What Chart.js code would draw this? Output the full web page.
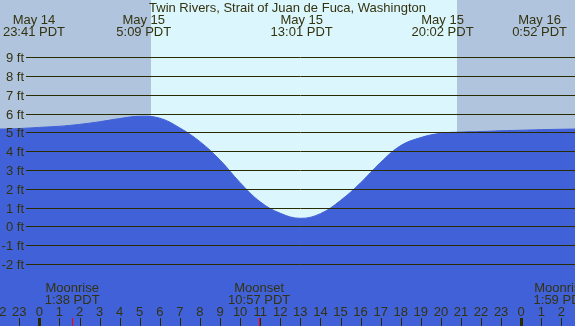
<!DOCTYPE html>
<html lang="en">
<head>
    <meta charset="UTF-8">
    <title>Twin Rivers tide</title>
    <script src="https://cdn.jsdelivr.net/npm/chart.js@4.4.1/dist/chart.umd.min.js"></script>
    <style>
        body { margin: 0; background: #fff; }
        canvas { display: block; }
    </style>
</head>
<body>
    <canvas id="tideChart" width="575" height="326"></canvas>

    <script>
        // hours from midnight May 15 (PDT), tide height in ft
        const hours = [-2, -1, 0, 1, 2, 3, 4, 5, 6, 7, 8, 9, 10, 11, 12, 13, 14, 15, 16, 17, 18, 19, 20, 21, 22, 23, 24, 25, 26, 27];
        const heights = [5.18, 5.21, 5.27, 5.33, 5.43, 5.57, 5.74, 5.86, 5.76, 5.24, 4.51, 3.53, 2.33, 1.31, 0.70, 0.43, 0.68, 1.38, 2.32, 3.41, 4.30, 4.73, 4.96, 5.02, 5.05, 5.09, 5.12, 5.15, 5.17, 5.19];

        const title = 'Twin Rivers, Strait of Juan de Fuca, Washington';
        const tideHours = [-0.317, 5.15, 13.017, 20.033, 24.867];
        const tideDays = ['May 14', 'May 15', 'May 15', 'May 15', 'May 16'];
        const tideTimes = ['23:41 PDT', '5:09 PDT', '13:01 PDT', '20:02 PDT', '0:52 PDT'];

        const moonHours = [1.633, 10.95, 25.983];
        const moonNames = ['Moonrise', 'Moonset', 'Moonrise'];
        const moonTimes = ['1:38 PDT', '10:57 PDT', '1:59 PDT'];

        const sunrise = 5.56;
        const sunset = 20.81;
        const ftTicks = [-2, -1, 0, 1, 2, 3, 4, 5, 6, 7, 8, 9];
        const hourTicks = [-2, -1, 0, 1, 2, 3, 4, 5, 6, 7, 8, 9, 10, 11, 12, 13, 14, 15, 16, 17, 18, 19, 20, 21, 22, 23, 24, 25, 26];

        const NIGHT = '#b0c4de';
        const DAY = '#dcf6fe';
        const WATER = '#4161d8';
        const INK = '#33330f';
        const LINE = '#2b2b00';
        const FONT = '13px "Liberation Sans", Arial, sans-serif';

        // sky behind the water
        const skyPlugin = {
            id: 'sky',
            beforeDraw(chart) {
                const ctx = chart.ctx;
                const x = chart.scales.x;
                ctx.save();
                ctx.fillStyle = NIGHT;
                ctx.fillRect(0, 0, chart.width, chart.height);
                ctx.fillStyle = DAY;
                const x0 = Math.round(x.getPixelForValue(sunrise));
                const x1 = Math.round(x.getPixelForValue(sunset));
                ctx.fillRect(x0, 0, x1 - x0, chart.height);
                ctx.restore();
            }
        };

        // grid, labels, ticks on top
        const labelsPlugin = {
            id: 'labels',
            afterDatasetsDraw(chart) {
                const ctx = chart.ctx;
                const x = chart.scales.x;
                const y = chart.scales.y;
                const w = chart.width;
                ctx.save();
                ctx.font = FONT;
                ctx.fillStyle = INK;

                ctx.strokeStyle = LINE;
                ctx.lineWidth = 1;
                ctx.textAlign = 'right';
                ctx.textBaseline = 'middle';
                ftTicks.forEach(ft => {
                    const py = Math.round(y.getPixelForValue(ft)) + 0.5;
                    ctx.beginPath();
                    ctx.moveTo(26, py);
                    ctx.lineTo(w, py);
                    ctx.stroke();
                    ctx.fillText(ft + ' ft', 24, py + 1);
                });

                ctx.textAlign = 'center';
                ctx.fillText(title, w / 2, 8);
                tideHours.forEach((h, i) => {
                    const px = x.getPixelForValue(h);
                    ctx.fillText(tideDays[i], px + 1, 20);
                    ctx.fillText(tideTimes[i], px + 1, 32);
                });

                moonHours.forEach((h, i) => {
                    const px = x.getPixelForValue(h);
                    ctx.fillText(moonNames[i], px, 288);
                    ctx.fillText(moonTimes[i], px, 300);
                    ctx.fillStyle = '#ff0000';
                    ctx.fillRect(Math.round(px), 318, 1, 8);
                    ctx.fillStyle = INK;
                });

                hourTicks.forEach(h => {
                    const px = x.getPixelForValue(h);
                    const label = ((h % 24) + 24) % 24;
                    ctx.fillText(String(label), px, 312);
                    ctx.fillStyle = LINE;
                    if (label === 0) {
                        ctx.fillRect(Math.round(px) - 1, 318, 3, 8);
                    } else {
                        ctx.fillRect(Math.round(px), 318, 1, 8);
                    }
                    ctx.fillStyle = INK;
                });
                ctx.restore();
            }
        };

        const ctx = document.getElementById('tideChart').getContext('2d');
        new Chart(ctx, {
            type: 'line',
            data: {
                datasets: [{
                    data: hours.map((h, i) => ({ x: h, y: heights[i] })),
                    fill: 'start',
                    backgroundColor: WATER,
                    borderColor: WATER,
                    borderWidth: 1,
                    pointRadius: 0,
                    tension: 0.4
                }]
            },
            options: {
                responsive: false,
                animation: false,
                devicePixelRatio: 1,
                layout: { padding: 0 },
                scales: {
                    x: { type: 'linear', min: -1.96, max: 26.68, display: false },
                    y: { min: -5.3, max: 12.05, display: false }
                },
                plugins: {
                    legend: { display: false },
                    tooltip: { enabled: false }
                }
            },
            plugins: [skyPlugin, labelsPlugin]
        });
    </script>
</body>
</html>
